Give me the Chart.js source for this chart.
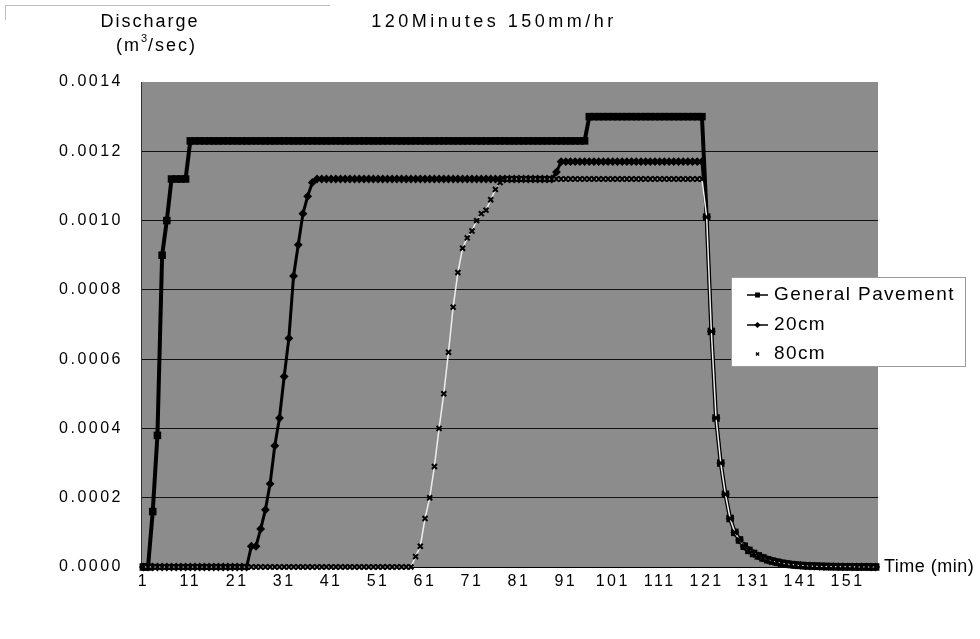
<!DOCTYPE html>
<html>
<head>
<meta charset="utf-8">
<script src="https://cdn.jsdelivr.net/npm/chart.js@4.4.0/dist/chart.umd.min.js"></script>
<style>
  html, body { margin: 0; padding: 0; background: #fff; }
  canvas { display: block; }
</style>
</head>
<body>
<canvas id="chart" width="980" height="639"></canvas>
<script>
// minutes 1..157 on the category axis, labels every 10 minutes
const minutes = Array.from({ length: 157 }, (_, i) => String(i + 1));
const tickLabels = ['1', '11', '21', '31', '41', '51', '61', '71', '81', '91', '101', '111', '121', '131', '141', '151'];
const seriesNames = ['General Pavement', '20cm', '80cm'];

const generalPavement = [
  0, 0, 0.00016, 0.00038, 0.0009, 0.001, 0.00112, 0.00112, 0.00112, 0.00112,
  0.00123, 0.00123, 0.00123, 0.00123, 0.00123, 0.00123, 0.00123, 0.00123, 0.00123, 0.00123,
  0.00123, 0.00123, 0.00123, 0.00123, 0.00123, 0.00123, 0.00123, 0.00123, 0.00123, 0.00123,
  0.00123, 0.00123, 0.00123, 0.00123, 0.00123, 0.00123, 0.00123, 0.00123, 0.00123, 0.00123,
  0.00123, 0.00123, 0.00123, 0.00123, 0.00123, 0.00123, 0.00123, 0.00123, 0.00123, 0.00123,
  0.00123, 0.00123, 0.00123, 0.00123, 0.00123, 0.00123, 0.00123, 0.00123, 0.00123, 0.00123,
  0.00123, 0.00123, 0.00123, 0.00123, 0.00123, 0.00123, 0.00123, 0.00123, 0.00123, 0.00123,
  0.00123, 0.00123, 0.00123, 0.00123, 0.00123, 0.00123, 0.00123, 0.00123, 0.00123, 0.00123,
  0.00123, 0.00123, 0.00123, 0.00123, 0.00123, 0.00123, 0.00123, 0.00123, 0.00123, 0.00123,
  0.00123, 0.00123, 0.00123, 0.00123, 0.00123, 0.0013, 0.0013, 0.0013, 0.0013, 0.0013,
  0.0013, 0.0013, 0.0013, 0.0013, 0.0013, 0.0013, 0.0013, 0.0013, 0.0013, 0.0013,
  0.0013, 0.0013, 0.0013, 0.0013, 0.0013, 0.0013, 0.0013, 0.0013, 0.0013, 0.0013,
  0.00101, 0.00068, 0.00043, 0.0003, 0.00021, 0.00014, 0.0001, 0.000078, 0.00006, 0.000048,
  0.000039, 0.000032, 0.000026, 0.000021, 0.000017, 0.000014, 0.000011, 0.000009, 0.000007, 0.0000055,
  0.0000045, 0.0000035, 0.000003, 0.0000025, 0.000002, 0.0000015, 0.0000012, 0.000001, 0.0000008, 0.0000006,
  0.0000005, 0.0000004, 0.0000003, 0.0000002, 0.0000002, 0.0000001, 0.0000001
];

const cm20 = [
  0, 0, 0, 0, 0, 0, 0, 0, 0, 0,
  0, 0, 0, 0, 0, 0, 0, 0, 0, 0,
  0, 0, 0, 0.00006, 0.00006, 0.00011, 0.000165, 0.00024, 0.00035, 0.00043,
  0.00055, 0.00066, 0.00084, 0.00093, 0.00102, 0.00107, 0.00111, 0.00112, 0.00112, 0.00112,
  0.00112, 0.00112, 0.00112, 0.00112, 0.00112, 0.00112, 0.00112, 0.00112, 0.00112, 0.00112,
  0.00112, 0.00112, 0.00112, 0.00112, 0.00112, 0.00112, 0.00112, 0.00112, 0.00112, 0.00112,
  0.00112, 0.00112, 0.00112, 0.00112, 0.00112, 0.00112, 0.00112, 0.00112, 0.00112, 0.00112,
  0.00112, 0.00112, 0.00112, 0.00112, 0.00112, 0.00112, 0.00112, 0.00112, 0.00112, 0.00112,
  0.00112, 0.00112, 0.00112, 0.00112, 0.00112, 0.00112, 0.00112, 0.00112, 0.00114, 0.00117,
  0.00117, 0.00117, 0.00117, 0.00117, 0.00117, 0.00117, 0.00117, 0.00117, 0.00117, 0.00117,
  0.00117, 0.00117, 0.00117, 0.00117, 0.00117, 0.00117, 0.00117, 0.00117, 0.00117, 0.00117,
  0.00117, 0.00117, 0.00117, 0.00117, 0.00117, 0.00117, 0.00117, 0.00117, 0.00117, 0.00117,
  0.00101, 0.00068, 0.00043, 0.0003, 0.00021, 0.00014, 0.0001, 0.000078, 0.00006, 0.000048,
  0.000039, 0.000032, 0.000026, 0.000021, 0.000017, 0.000014, 0.000011, 0.000009, 0.000007, 0.0000055,
  0.0000045, 0.0000035, 0.000003, 0.0000025, 0.000002, 0.0000015, 0.0000012, 0.000001, 0.0000008, 0.0000006,
  0.0000005, 0.0000004, 0.0000003, 0.0000002, 0.0000002, 0.0000001, 0.0000001
];

const cm80 = [
  0, 0, 0, 0, 0, 0, 0, 0, 0, 0,
  0, 0, 0, 0, 0, 0, 0, 0, 0, 0,
  0, 0, 0, 0, 0, 0, 0, 0, 0, 0,
  0, 0, 0, 0, 0, 0, 0, 0, 0, 0,
  0, 0, 0, 0, 0, 0, 0, 0, 0, 0,
  0, 0, 0, 0, 0, 0, 0, 0, 0.00003, 0.00006,
  0.00014, 0.0002, 0.00029, 0.0004, 0.0005, 0.00062, 0.00075, 0.00085, 0.00092, 0.00095,
  0.00097, 0.001, 0.00102, 0.00103, 0.00106, 0.00109, 0.00111, 0.00112, 0.00112, 0.00112,
  0.00112, 0.00112, 0.00112, 0.00112, 0.00112, 0.00112, 0.00112, 0.00112, 0.00112, 0.00112,
  0.00112, 0.00112, 0.00112, 0.00112, 0.00112, 0.00112, 0.00112, 0.00112, 0.00112, 0.00112,
  0.00112, 0.00112, 0.00112, 0.00112, 0.00112, 0.00112, 0.00112, 0.00112, 0.00112, 0.00112,
  0.00112, 0.00112, 0.00112, 0.00112, 0.00112, 0.00112, 0.00112, 0.00112, 0.00112, 0.00112,
  0.00101, 0.00068, 0.00043, 0.0003, 0.00021, 0.00014, 0.0001, 0.000078, 0.00006, 0.000048,
  0.000039, 0.000032, 0.000026, 0.000021, 0.000017, 0.000014, 0.000011, 0.000009, 0.000007, 0.0000055,
  0.0000045, 0.0000035, 0.000003, 0.0000025, 0.000002, 0.0000015, 0.0000012, 0.000001, 0.0000008, 0.0000006,
  0.0000005, 0.0000004, 0.0000003, 0.0000002, 0.0000002, 0.0000001, 0.0000001
];

const FONT = '"Liberation Sans", Arial, sans-serif';
const $ = id => document.getElementById(id);

// canvas resets letterSpacing on resize, so set it before each layout / draw
const spacing = {
  id: 'spacing',
  beforeUpdate: c => { c.ctx.letterSpacing = '2.5px'; },
  beforeDraw: c => { c.ctx.letterSpacing = '2.5px'; }
};

const plotBg = {
  id: 'plotBg',
  beforeDraw(c) {
    const { ctx, chartArea: a } = c;
    ctx.save();
    ctx.fillStyle = '#8c8c8c';
    ctx.fillRect(a.left, a.top, a.right - a.left, a.bottom - a.top);
    ctx.restore();
  }
};

const text = (ctx, s, x, y, size, ls, align = 'center') => {
  ctx.font = `${size}px ${FONT}`;
  ctx.letterSpacing = ls + 'px';
  ctx.textAlign = align;
  ctx.textBaseline = 'middle';
  ctx.fillStyle = '#000';
  ctx.fillText(s, x, y);
};

const labels = {
  id: 'labels',
  afterDraw(c) {
    const ctx = c.ctx;
    ctx.save();
    // faint scan frame at top-left
    ctx.strokeStyle = '#bdbdbd'; ctx.lineWidth = 1;
    ctx.beginPath(); ctx.moveTo(5, 5.5); ctx.lineTo(330, 5.5); ctx.moveTo(5.5, 5); ctx.lineTo(5.5, 20); ctx.stroke();

    text(ctx, 'Discharge', 150, 22, 18, 2);
    text(ctx, '(m', 116, 46, 18, 2, 'left');
    text(ctx, '3', 141, 39, 11, 0, 'left');
    text(ctx, '/sec)', 148, 46, 18, 2, 'left');
    text(ctx, '120Minutes 150mm/hr', 494, 22, 18, 3.5);
    text(ctx, 'Time (min)', 884, 567, 18, 0.5, 'left');

    // legend box
    const lx = 731.5, ly = 277.5, lw = 234, lh = 89;
    ctx.fillStyle = '#fff';
    ctx.fillRect(lx, ly, lw, lh);
    ctx.strokeStyle = '#9a9a9a'; ctx.lineWidth = 1;
    ctx.strokeRect(lx, ly, lw, lh);
    const rows = [295, 325, 354];
    c.data.datasets.forEach((d, i) => {
      const y = rows[i];
      if (i < 2) {
        ctx.strokeStyle = '#000'; ctx.lineWidth = 1.5;
        ctx.beginPath(); ctx.moveTo(747, y); ctx.lineTo(768, y); ctx.stroke();
      }
      ctx.fillStyle = '#000'; ctx.strokeStyle = '#000'; ctx.lineWidth = 1.3;
      Chart.helpers.drawPoint(ctx, {
        pointStyle: d.pointStyle, radius: i === 0 ? 2.5 : 2.2, borderWidth: 1.3, rotation: 0
      }, 757.5, y);
      text(ctx, d.label, 774, y, 19, 1.4, 'left');
    });
    ctx.restore();
  }
};

new Chart($('chart'), {
  type: 'line',
  data: {
    labels: minutes,
    datasets: [
      { label: seriesNames[0], data: generalPavement, borderColor: '#000', borderWidth: 4,
        pointStyle: 'rect', pointRadius: 2.5, pointBackgroundColor: '#000', pointBorderColor: '#000', order: 2 },
      { label: seriesNames[1], data: cm20, borderColor: '#000', borderWidth: 3,
        pointStyle: 'rectRot', pointRadius: 2.3, pointBackgroundColor: '#000', pointBorderColor: '#000', order: 1 },
      { label: seriesNames[2], data: cm80, borderColor: '#ededed', borderWidth: 1.5,
        pointStyle: 'crossRot', pointRadius: 3.5, pointBorderColor: '#000', pointBorderWidth: 2, order: 0 }
    ]
  },
  options: {
    responsive: false,
    animation: false,
    devicePixelRatio: 1,
    layout: { padding: { left: 0, right: 102, top: 82, bottom: 0 } },
    elements: { line: { tension: 0 } },
    datasets: { line: { clip: 8 } },
    plugins: { legend: { display: false }, tooltip: { enabled: false } },
    scales: {
      x: {
        offset: true,
        grid: { display: false, drawTicks: false },
        border: { display: true, color: '#000', width: 1 },
        afterFit: s => { s.height = 72; },
        ticks: {
          autoSkip: false, maxRotation: 0, padding: 5, color: '#000',
          font: { family: FONT, size: 16 },
          callback: (v, i) => tickLabels.includes(minutes[i]) ? minutes[i] : ''
        }
      },
      y: {
        min: 0, max: 0.0014,
        afterFit: s => { s.width = 141; },
        grid: {
          drawTicks: false, lineWidth: 1,
          color: ctx => ctx.tick && ctx.tick.value >= 0.0014 ? 'rgba(0,0,0,0)' : '#111'
        },
        border: { display: true, color: '#333', width: 1 },
        ticks: {
          stepSize: 0.0002, padding: 18, color: '#000',
          font: { family: FONT, size: 16 },
          callback: v => v.toFixed(4)
        }
      }
    }
  },
  plugins: [spacing, plotBg, labels]
});
</script>
</body>
</html>
